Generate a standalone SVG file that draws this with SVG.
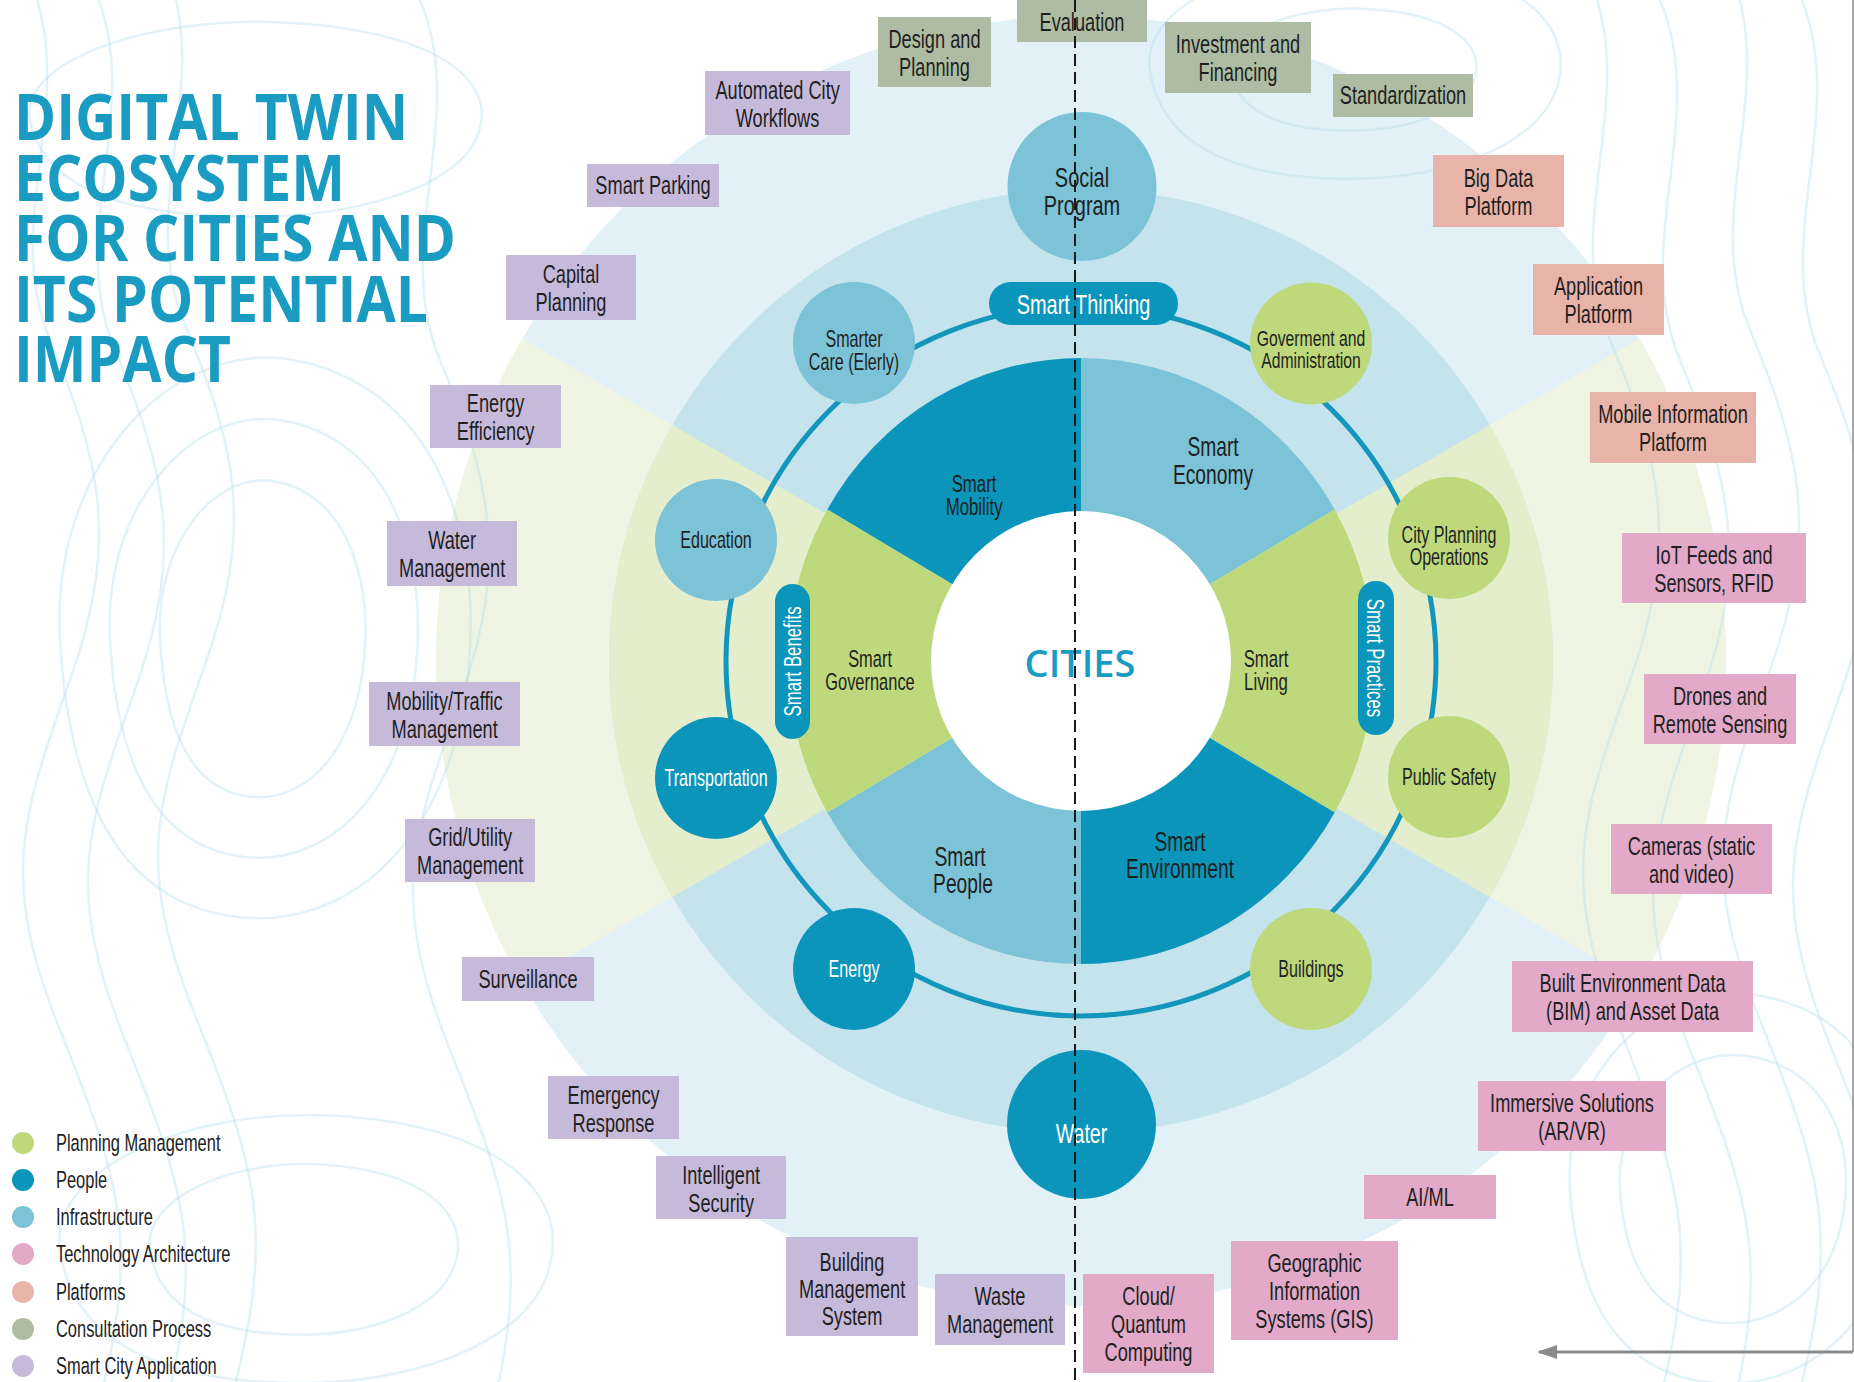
<svg xmlns="http://www.w3.org/2000/svg" width="1854" height="1382" viewBox="0 0 1854 1382">
<defs>
<style>
.t{font-family:"Liberation Sans",Arial,sans-serif;text-anchor:middle;transform-box:fill-box;transform-origin:center;transform:scaleX(0.7);fill:#1f1f1f}
.w{fill:#ffffff}
.b{font-size:26px}
.n{font-size:23px}
.lg{font-family:"Liberation Sans",Arial,sans-serif;font-size:23.5px;fill:#222222;transform-box:fill-box;transform-origin:left center;transform:scaleX(0.7)}
.sc{fill:#c6badb}
.cp{fill:#aebca3}
.pf{fill:#e8b4a9}
.ta{fill:#e2a9c8}
.dk{fill:#0b95ba}
.lt{fill:#7cc3d7}
.gr{fill:#bdd97b}
.contour{fill:none;stroke:#a9d8ea;stroke-width:2.5;opacity:0.32}
.title{font-family:"Open Sans","Liberation Sans",sans-serif;font-weight:700;font-size:64px;fill:#1a9bc1}
</style>
<marker id="ah" viewBox="0 0 20 14" refX="18" refY="7" markerWidth="20" markerHeight="14" markerUnits="userSpaceOnUse" orient="auto"><path d="M0,0 L20,7 L0,14 Z" fill="#8a8a8a"/></marker>
<path id="wave" vector-effect="non-scaling-stroke" d="M 0 -20 C 50 100, -30 220, 20 340 S 90 540, 40 680 S -30 880, 30 1030 S 110 1240, 70 1400"/>
<path id="blob" vector-effect="non-scaling-stroke" d="M -100 0 C -105 -75, -45 -130, 15 -122 C 85 -112, 112 -50, 104 15 C 96 85, 45 128, -15 120 C -75 112, -96 60, -100 0 Z"/>
</defs>

<rect x="0" y="0" width="1854" height="1382" fill="#ffffff"/>

<g id="background">
<circle cx="1081" cy="661" r="645" fill="#e2f1f7"/>
<path d="M1081 661 L1639.6 338.5 A645 645 0 0 1 1639.6 983.5 Z" fill="#f0f5e3"/>
<path d="M1081 661 L522.4 983.5 A645 645 0 0 1 522.4 338.5 Z" fill="#f0f5e3"/>
<circle cx="1081" cy="661" r="472" fill="#c4e3ed"/>
<path d="M1081 661 L1489.8 425 A472 472 0 0 1 1489.8 897 Z" fill="#e5eecc"/>
<path d="M1081 661 L672.2 897 A472 472 0 0 1 672.2 425 Z" fill="#e5eecc"/>
</g>

<g id="contours">
<use href="#wave" class="contour" transform="translate(30,0)"/>
<use href="#wave" class="contour" transform="translate(95,10)"/>
<use href="#wave" class="contour" transform="translate(165,-15)"/>
<use href="#wave" class="contour" transform="translate(420,20)"/>
<use href="#wave" class="contour" transform="translate(1590,0)"/>
<use href="#wave" class="contour" transform="translate(1660,20)"/>
<use href="#wave" class="contour" transform="translate(1730,-10)"/>
<use href="#wave" class="contour" transform="translate(1800,15)"/>
<use href="#blob" class="contour" transform="translate(260,640) scale(1,1.3)"/>
<use href="#blob" class="contour" transform="translate(260,640) scale(1.5,1.8)"/>
<use href="#blob" class="contour" transform="translate(260,640) scale(2,2.3)"/>
<use href="#blob" class="contour" transform="translate(1730,1190) scale(1.1)"/>
<use href="#blob" class="contour" transform="translate(1730,1190) scale(1.6)"/>
<use href="#blob" class="contour" transform="translate(1350,70) scale(1.2,0.5)"/>
<use href="#blob" class="contour" transform="translate(1350,70) scale(2,0.9)"/>
<use href="#blob" class="contour" transform="translate(300,1250) scale(1.5,0.7)"/>
<use href="#blob" class="contour" transform="translate(300,1250) scale(2.4,1.1)"/>
<use href="#blob" class="contour" transform="translate(250,120) scale(2.2,0.8)"/>
</g>

<g id="disk">
<path id="smart-mobility" class="dk" d="M1081 661 L827.3 509.5 A293 303 0 0 1 1081 358 Z"/>
<path id="smart-economy" class="lt" d="M1081 661 L1081 358 A293 303 0 0 1 1334.7 509.5 Z"/>
<path id="smart-living" class="gr" d="M1081 661 L1334.7 509.5 A293 303 0 0 1 1334.7 812.5 Z"/>
<path id="smart-environment" class="dk" d="M1081 661 L1334.7 812.5 A293 303 0 0 1 1081 964 Z"/>
<path id="smart-people" class="lt" d="M1081 661 L1081 964 A293 303 0 0 1 827.3 812.5 Z"/>
<path id="smart-governance" class="gr" d="M1081 661 L827.3 812.5 A293 303 0 0 1 827.3 509.5 Z"/>
<circle id="cities-core" cx="1081" cy="661" r="150" fill="#ffffff"/>
<text class="t" font-size="24" x="974" y="492">Smart</text>
<text class="t" font-size="24" x="974" y="515">Mobility</text>
<text class="t" font-size="27.5" x="1213" y="456">Smart</text>
<text class="t" font-size="27.5" x="1213" y="484">Economy</text>
<text class="t" font-size="23.5" x="870" y="667">Smart</text>
<text class="t" font-size="23.5" x="870" y="690">Governance</text>
<text class="t" font-size="24" x="1266" y="667">Smart</text>
<text class="t" font-size="24" x="1266" y="690">Living</text>
<text class="t" font-size="27.5" x="960" y="866">Smart</text>
<text class="t" font-size="27.5" x="963" y="893">People</text>
<text class="t" font-size="27.5" x="1180" y="851">Smart</text>
<text class="t" font-size="27.5" x="1180" y="878">Environment</text>
<text x="1080" y="677" font-family="'Open Sans','Liberation Sans',sans-serif" font-weight="600" font-size="38" fill="#1a9bc1" text-anchor="middle">CITIES</text>
</g>

<g id="ring">
<circle cx="1081" cy="661" r="355" fill="none" stroke="#1396bb" stroke-width="5"/>
</g>

<g id="node-social-program"><circle class="lt" cx="1082" cy="186.5" r="74.5"/><text class="t" font-size="28.5" x="1082" y="187">Social</text><text class="t" font-size="28.5" x="1082" y="215">Program</text></g>
<g id="node-water"><circle class="dk" cx="1081.5" cy="1124.5" r="74.5"/><text class="t w" font-size="28" x="1081.5" y="1143">Water</text></g>
<g id="node-smart-thinking"><rect class="dk" x="989" y="282" width="189" height="43" rx="21.5"/><text class="t w" font-size="28.5" x="1083.5" y="314">Smart Thinking</text></g>
<g id="node-smarter-care"><circle class="lt" cx="854" cy="343" r="61"/><text class="t n" x="854" y="347">Smarter</text><text class="t n" x="854" y="370">Care (Elerly)</text></g>
<g id="node-government"><circle class="gr" cx="1311" cy="343.5" r="61"/><text class="t" font-size="22.5" x="1311" y="346">Goverment and</text><text class="t" font-size="22.5" x="1311" y="368">Administration</text></g>
<g id="node-education"><circle class="lt" cx="716" cy="540" r="61"/><text class="t n" x="716" y="548">Education</text></g>
<g id="node-city-planning"><circle class="gr" cx="1449" cy="538" r="61"/><text class="t n" x="1449" y="543">City Planning</text><text class="t n" x="1449" y="565">Operations</text></g>
<g id="node-smart-benefits"><rect class="dk" x="775" y="584" width="35" height="155" rx="17.5"/><g transform="translate(792.5,661.5) rotate(-90)"><text class="t w" font-size="24" x="0" y="8.5">Smart Benefits</text></g></g>
<g id="node-smart-practices"><rect class="dk" x="1358" y="581" width="36" height="154" rx="18"/><g transform="translate(1376,658) rotate(90)"><text class="t w" font-size="24" x="0" y="8.5">Smart Practices</text></g></g>
<g id="node-transportation"><circle class="dk" cx="716" cy="778" r="61"/><text class="t n w" x="716" y="786">Transportation</text></g>
<g id="node-public-safety"><circle class="gr" cx="1449" cy="777" r="61"/><text class="t n" x="1449" y="785">Public Safety</text></g>
<g id="node-energy"><circle class="dk" cx="854" cy="969" r="61"/><text class="t n w" x="854" y="977">Energy</text></g>
<g id="node-buildings"><circle class="gr" cx="1311" cy="969" r="61"/><text class="t n" x="1311" y="977">Buildings</text></g>

<g id="box-evaluation"><rect class="cp" x="1017" y="-10" width="130" height="52"/><text class="t b" x="1082" y="31">Evaluation</text></g>
<g id="box-design-planning"><rect class="cp" x="878" y="17" width="113" height="70"/><text class="t b" x="934.5" y="48">Design and</text><text class="t b" x="934.5" y="76">Planning</text></g>
<g id="box-investment"><rect class="cp" x="1165" y="22" width="146" height="71"/><text class="t b" x="1238" y="53.5">Investment and</text><text class="t b" x="1238" y="81.5">Financing</text></g>
<g id="box-standardization"><rect class="cp" x="1333" y="74" width="140" height="43"/><text class="t b" x="1403" y="104.5">Standardization</text></g>

<g id="box-big-data"><rect class="pf" x="1433" y="155" width="131" height="72"/><text class="t b" x="1498.5" y="187">Big Data</text><text class="t b" x="1498.5" y="215">Platform</text></g>
<g id="box-application"><rect class="pf" x="1533" y="264" width="131" height="71"/><text class="t b" x="1598.5" y="295.5">Application</text><text class="t b" x="1598.5" y="323.5">Platform</text></g>
<g id="box-mobile-info"><rect class="pf" x="1590" y="392" width="166" height="71"/><text class="t b" x="1673" y="423.5">Mobile Information</text><text class="t b" x="1673" y="451.5">Platform</text></g>

<g id="box-iot"><rect class="ta" x="1622" y="533" width="184" height="70"/><text class="t b" x="1714" y="564">IoT Feeds and</text><text class="t b" x="1714" y="592">Sensors, RFID</text></g>
<g id="box-drones"><rect class="ta" x="1644" y="674" width="152" height="70"/><text class="t b" x="1720" y="705">Drones and</text><text class="t b" x="1720" y="733">Remote Sensing</text></g>
<g id="box-cameras"><rect class="ta" x="1611" y="824" width="161" height="70"/><text class="t b" x="1691.5" y="855">Cameras (static</text><text class="t b" x="1691.5" y="883">and video)</text></g>
<g id="box-bim"><rect class="ta" x="1512" y="961" width="241" height="71"/><text class="t b" x="1632.5" y="992.5">Built Environment Data</text><text class="t b" x="1632.5" y="1020.5">(BIM) and Asset Data</text></g>
<g id="box-immersive"><rect class="ta" x="1478" y="1081" width="188" height="70"/><text class="t b" x="1572" y="1112">Immersive Solutions</text><text class="t b" x="1572" y="1140">(AR/VR)</text></g>
<g id="box-aiml"><rect class="ta" x="1364" y="1175" width="132" height="44"/><text class="t b" x="1430" y="1206">AI/ML</text></g>
<g id="box-gis"><rect class="ta" x="1231" y="1241" width="167" height="99"/><text class="t b" x="1314.5" y="1272.5">Geographic</text><text class="t b" x="1314.5" y="1300.5">Information</text><text class="t b" x="1314.5" y="1328.5">Systems (GIS)</text></g>
<g id="box-cloud"><rect class="ta" x="1083" y="1274" width="131" height="99"/><text class="t b" x="1148.5" y="1305.5">Cloud/</text><text class="t b" x="1148.5" y="1333.5">Quantum</text><text class="t b" x="1148.5" y="1361.5">Computing</text></g>

<g id="box-waste"><rect class="sc" x="935" y="1274" width="130" height="71"/><text class="t b" x="1000" y="1305.5">Waste</text><text class="t b" x="1000" y="1333.5">Management</text></g>
<g id="box-bms"><rect class="sc" x="786" y="1237" width="132" height="99"/><text class="t b" x="852" y="1271">Building</text><text class="t b" x="852" y="1298">Management</text><text class="t b" x="852" y="1325">System</text></g>
<g id="box-intelligent-security"><rect class="sc" x="656" y="1156" width="130" height="63"/><text class="t b" x="721" y="1184.5">Intelligent</text><text class="t b" x="721" y="1212.5">Security</text></g>
<g id="box-emergency"><rect class="sc" x="548" y="1076" width="131" height="63"/><text class="t b" x="613.5" y="1104">Emergency</text><text class="t b" x="613.5" y="1132">Response</text></g>
<g id="box-surveillance"><rect class="sc" x="462" y="957" width="132" height="44"/><text class="t b" x="528" y="988">Surveillance</text></g>
<g id="box-grid"><rect class="sc" x="405" y="819" width="130" height="63"/><text class="t b" x="470" y="846">Grid/Utility</text><text class="t b" x="470" y="874">Management</text></g>
<g id="box-mobility-traffic"><rect class="sc" x="369" y="682" width="151" height="64"/><text class="t b" x="444.5" y="710">Mobility/Traffic</text><text class="t b" x="444.5" y="738">Management</text></g>
<g id="box-water-mgmt"><rect class="sc" x="387" y="521" width="130" height="65"/><text class="t b" x="452" y="549.5">Water</text><text class="t b" x="452" y="577.5">Management</text></g>
<g id="box-energy-eff"><rect class="sc" x="430" y="385" width="131" height="63"/><text class="t b" x="495.5" y="412.5">Energy</text><text class="t b" x="495.5" y="440.5">Efficiency</text></g>
<g id="box-capital"><rect class="sc" x="506" y="255" width="130" height="65"/><text class="t b" x="571" y="283.5">Capital</text><text class="t b" x="571" y="311.5">Planning</text></g>
<g id="box-parking"><rect class="sc" x="587" y="164" width="132" height="43"/><text class="t b" x="653" y="194.5">Smart Parking</text></g>
<g id="box-workflows"><rect class="sc" x="705" y="71" width="145" height="64"/><text class="t b" x="777.5" y="99">Automated City</text><text class="t b" x="777.5" y="127">Workflows</text></g>

<g id="title">
<text class="title"><tspan x="14" y="140" textLength="394" lengthAdjust="spacingAndGlyphs">DIGITAL TWIN</tspan><tspan x="14" y="200.5" textLength="331" lengthAdjust="spacingAndGlyphs">ECOSYSTEM</tspan><tspan x="14" y="261" textLength="442" lengthAdjust="spacingAndGlyphs">FOR CITIES AND</tspan><tspan x="14" y="321.5" textLength="414" lengthAdjust="spacingAndGlyphs">ITS POTENTIAL</tspan><tspan x="14" y="382" textLength="217" lengthAdjust="spacingAndGlyphs">IMPACT</tspan></text>
</g>

<g id="legend">
<circle cx="23" cy="1143" r="11" fill="#bdd97b"/><text class="lg" x="56" y="1151">Planning Management</text>
<circle cx="23" cy="1180" r="11" fill="#0b95ba"/><text class="lg" x="56" y="1188">People</text>
<circle cx="23" cy="1217" r="11" fill="#7cc3d7"/><text class="lg" x="56" y="1225">Infrastructure</text>
<circle cx="23" cy="1254" r="11" fill="#e2a9c8"/><text class="lg" x="56" y="1262">Technology Architecture</text>
<circle cx="23" cy="1292" r="11" fill="#e8b4a9"/><text class="lg" x="56" y="1300">Platforms</text>
<circle cx="23" cy="1329" r="11" fill="#aebca3"/><text class="lg" x="56" y="1337">Consultation Process</text>
<circle cx="23" cy="1366" r="11" fill="#c6badb"/><text class="lg" x="56" y="1374">Smart City Application</text>
</g>

<g id="connectors">
<line x1="1075" y1="0" x2="1075" y2="1382" stroke="#1a1a1a" stroke-width="2" stroke-dasharray="12 6"/>
<line x1="1853" y1="0" x2="1853" y2="1352" stroke="#8a8a8a" stroke-width="1.5"/>
<line x1="1853" y1="1352" x2="1539" y2="1352" stroke="#8a8a8a" stroke-width="3" marker-end="url(#ah)"/>
</g>
</svg>
